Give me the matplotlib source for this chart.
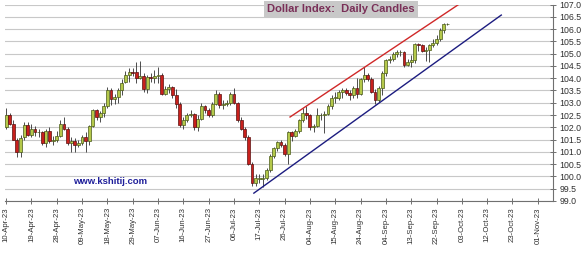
import numpy as np
import pandas as pd
import matplotlib
matplotlib.use("Agg")
import matplotlib.pyplot as plt

# Daily OHLC, trading days from 10-Apr-23
opens = [102.0, 102.5, 102.15, 101.5, 101.0, 101.6, 102.1, 101.7, 101.95, 101.8,
         101.8, 101.35, 101.85, 101.45, 101.5, 101.65, 102.15, 101.95, 101.35, 101.45,
         101.3, 101.35, 101.6, 101.45, 102.05, 102.7, 102.4, 102.6, 102.85, 103.5,
         103.15, 103.25, 103.5, 103.85, 104.15, 104.25, 104.25, 104.0, 104.1, 103.55,
         104.05, 104.0, 104.1, 104.15, 103.35, 103.55, 103.65, 103.3, 102.95, 102.1,
         102.3, 102.5, 102.55, 102.0, 102.35, 102.85, 102.7, 102.5, 102.95, 103.35,
         102.9, 102.95, 103.0, 103.35, 103.0, 102.3, 101.95, 101.6, 100.5, 99.75,
         99.9, 99.9, 99.95, 100.25, 100.85, 101.15, 101.4, 101.3, 100.9, 101.8,
         101.65, 101.85, 102.3, 102.6, 102.5, 102.0, 102.05, 102.5, 102.5, 102.55,
         102.85, 103.2, 103.2, 103.45, 103.5, 103.4, 103.3, 103.6, 103.35, 103.95,
         104.15, 103.95, 103.45, 103.1, 103.6, 104.2, 104.75, 104.8, 105.0, 105.05,
         105.05, 104.55, 104.65, 104.75, 105.4, 105.35, 105.1, 105.15, 105.35, 105.45,
         105.6, 105.95, 106.2]
highs = [102.8, 102.6, 102.3, 101.55, 101.7, 102.2, 102.2, 102.15, 102.05, 101.95,
         101.85, 101.95, 102.0, 101.65, 101.85, 102.3, 102.4, 102.0, 101.6, 101.55,
         101.5, 101.7, 101.8, 102.1, 102.75, 102.75, 102.65, 103.0, 103.65, 103.6,
         103.35, 103.6, 103.95, 104.3, 104.4, 104.4, 104.65, 104.7, 104.2, 104.15,
         104.2, 104.35, 104.45, 104.2, 103.7, 103.75, 103.7, 103.55, 103.05, 102.4,
         102.6, 102.7, 102.6, 102.5, 103.0, 102.9, 102.8, 103.05, 103.5, 103.45,
         103.1, 103.1, 103.45, 103.6, 103.05, 102.4, 102.0, 101.7, 100.6, 100.1,
         100.1, 100.1, 100.35, 100.9, 101.2, 101.45, 101.5, 101.35, 101.85, 101.85,
         101.95, 102.35, 102.8, 102.85, 102.55, 102.15, 102.8, 102.6, 102.65, 102.95,
         103.3, 103.45, 103.5, 103.6, 103.6, 103.5, 103.7, 104.0, 104.0, 104.45,
         104.2, 104.05, 103.55, 103.7, 104.3, 104.8, 104.9, 105.05, 105.15, 105.15,
         105.1, 104.8, 104.95, 105.45, 105.45, 105.4, 105.25, 105.4, 105.6, 105.75,
         106.05, 106.25, 106.25]
lows = [101.95, 102.1, 101.5, 100.8, 100.8, 101.5, 101.65, 101.6, 101.65, 101.6,
        101.3, 101.2, 101.35, 101.3, 101.4, 101.6, 101.9, 101.3, 101.0, 101.0,
        101.2, 101.3, 101.0, 101.3, 102.0, 102.3, 102.2, 102.4, 102.8, 102.9,
        102.95, 103.0, 103.3, 103.8, 103.85, 104.1, 103.8, 103.95, 103.45, 103.4,
        103.85, 103.8, 103.8, 103.3, 103.3, 103.4, 103.2, 102.8, 102.0, 101.95,
        102.2, 102.4, 101.9, 101.85, 102.3, 102.6, 102.4, 102.4, 102.9, 102.8,
        102.75, 102.85, 102.9, 102.95, 102.2, 101.9, 101.5, 100.45, 99.6, 99.6,
        99.75, 99.55, 99.85, 100.2, 100.75, 101.05, 101.2, 100.85, 100.5, 101.45,
        101.6, 101.75, 102.2, 102.35, 101.9, 101.8, 102.0, 102.3, 101.75, 102.5,
        102.75, 103.0, 103.1, 103.2, 103.3, 103.1, 103.2, 103.2, 103.3, 103.85,
        103.9, 103.4, 102.95, 103.05, 103.3, 104.1, 104.6, 104.7, 104.85, 104.9,
        104.45, 104.5, 104.45, 104.6, 105.1, 105.05, 104.7, 104.65, 105.25, 105.35,
        105.5, 105.85, 106.15]
closes = [102.5, 102.15, 101.5, 101.0, 101.55, 102.1, 101.7, 101.95, 101.8, 101.8,
          101.35, 101.85, 101.45, 101.5, 101.65, 102.15, 101.95, 101.35, 101.45, 101.3,
          101.35, 101.6, 101.45, 102.05, 102.7, 102.4, 102.6, 102.85, 103.5, 103.15,
          103.25, 103.5, 103.8, 104.15, 104.25, 104.2, 104.0, 104.1, 103.55, 104.05,
          104.0, 104.1, 104.15, 103.35, 103.55, 103.65, 103.3, 102.95, 102.1, 102.3,
          102.5, 102.55, 102.0, 102.35, 102.85, 102.7, 102.5, 102.95, 103.35, 102.9,
          102.95, 103.0, 103.35, 103.0, 102.3, 101.95, 101.6, 100.5, 99.75, 99.95,
          99.9, 99.95, 100.25, 100.85, 101.15, 101.4, 101.3, 100.9, 101.8, 101.65,
          101.85, 102.3, 102.6, 102.5, 102.0, 102.05, 102.5, 102.5, 102.55, 102.85,
          103.2, 103.2, 103.45, 103.5, 103.4, 103.3, 103.6, 103.35, 103.95, 104.15,
          103.95, 103.45, 103.1, 103.6, 104.2, 104.75, 104.8, 105.0, 105.05, 105.05,
          104.55, 104.65, 104.75, 105.4, 105.35, 105.1, 105.15, 105.35, 105.45, 105.6,
          105.95, 106.2, 106.2]

# channel lines: (trading-day index, price) at each end
upper_line = [(78.5, 102.42), (125.1, 107.0)]
lower_line = [(68.5, 99.32), (136.9, 106.57)]

start_date = "2023-04-10"
n_axis_days = 152

UP_COLOR = "#b4c84a"
DOWN_COLOR = "#c8201c"

dates = pd.bdate_range(start_date, periods=n_axis_days)
tick_pos = np.arange(0, 148, 7)
tick_labels = [dates[i].strftime("%d-%b-%y") for i in tick_pos]

plt.rcParams["font.family"] = ["Liberation Sans", "DejaVu Sans"]

fig = plt.figure(figsize=(5.88, 2.60), dpi=100)
ax = fig.add_axes([5 / 588, 59 / 260, 548 / 588, 196.5 / 260])

o = np.array(opens); h = np.array(highs); l = np.array(lows); c = np.array(closes)
x = np.arange(len(c))
up = c >= o

ax.vlines(x, l, h, color="#303030", linewidth=0.6, zorder=2)
bottom = np.minimum(o, c)
height = np.maximum(np.abs(c - o), 0.02)
ax.bar(x[up], height[up], bottom=bottom[up], width=0.8, color=UP_COLOR,
       edgecolor="#4a5a1a", linewidth=0.5, zorder=3)
ax.bar(x[~up], height[~up], bottom=bottom[~up], width=0.8, color=DOWN_COLOR,
       edgecolor="#5a1010", linewidth=0.5, zorder=3)

(ux0, uy0), (ux1, uy1) = upper_line
(lx0, ly0), (lx1, ly1) = lower_line
ax.plot([ux0, ux1], [uy0, uy1], color="#d02828", linewidth=1.0, zorder=4)
ax.plot([lx0, lx1], [ly0, ly1], color="#1c1c80", linewidth=1.0, zorder=4)

ax.set_xlim(-0.3, 151.2)
ax.set_ylim(99.0, 107.0)
ax.set_yticks(np.arange(99.0, 107.01, 0.5))
ax.set_yticklabels([f"{v:.1f}" for v in np.arange(99.0, 107.01, 0.5)])
ax.yaxis.tick_right()
ax.set_xticks(tick_pos)
ax.set_xticklabels(tick_labels, rotation=90)
ax.grid(axis="y", color="#c8c8c8", linewidth=0.8, zorder=0)
ax.set_axisbelow(True)

for side in ["left", "top"]:
    ax.spines[side].set_visible(False)
for side in ["right", "bottom"]:
    ax.spines[side].set_color("#707070")
    ax.spines[side].set_linewidth(0.8)
ax.tick_params(axis="y", direction="inout", length=5, width=0.7, color="#707070",
               labelsize=6.3, labelcolor="#303030", pad=2)
ax.tick_params(axis="x", direction="inout", length=5, width=0.7, color="#707070",
               labelsize=5.6, labelcolor="#303030", pad=2)

fig.text(341 / 588, 1 - 9 / 260, "Dollar Index:  Daily Candles", ha="center", va="center",
         fontsize=8, fontweight="bold", color="#7a3058",
         bbox=dict(boxstyle="square,pad=0.25", facecolor="#c8c8c8", edgecolor="none"))
fig.text(110 / 588, 1 - 181 / 260, "www.kshitij.com", ha="center", va="center",
         fontsize=6.8, fontweight="bold", color="#1e1e9a")

fig.savefig("out.png", dpi=100)
